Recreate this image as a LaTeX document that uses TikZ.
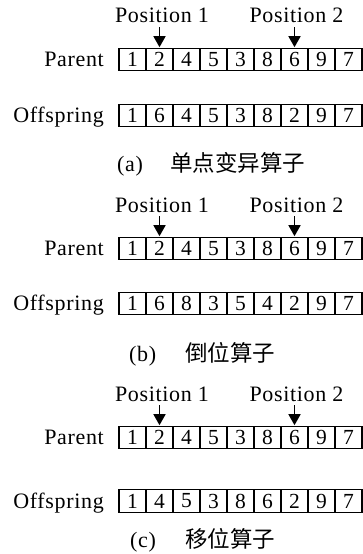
\documentclass[tikz,border=0pt]{standalone}
\usepackage{fontspec}
\setmainfont{Liberation Serif}[LetterSpace=3]
\newfontfamily\digfont{Liberation Serif}
\newfontfamily\cjk{Noto Sans CJK SC}
\usetikzlibrary{arrows.meta}
\newcommand\genrow[3]{%
  \foreach \v [count=\i] in {#3} {
    \node[cell] (#1\i) at ({105.5+27*\i},#2) {\v};
  }%
}
\begin{document}
\begin{tikzpicture}[x=1pt,y=-1pt,
  txt/.style={font=\fontsize{22}{22}\selectfont, inner sep=0pt},
  cell/.style={draw, line width=1.1pt, minimum width=27pt, minimum height=22.5pt, inner sep=0pt, font=\digfont\fontsize{21.5}{21.5}\selectfont},
  lbl/.style={txt, anchor=base east},
  postxt/.style={txt, anchor=base},
  captxt/.style={txt, anchor=base west},
  capcn/.style={anchor=base west, inner sep=0pt, font=\fontsize{22.5}{22.5}\selectfont\cjk},
  arr/.style={line width=1.5pt, -{Triangle[width=12pt,length=11pt]}, shorten >=0.5pt}]
\useasboundingbox (0,0) rectangle (363,554);
% ---------- (a)
\genrow{ap}{59.5}{1,2,4,5,3,8,6,9,7}
\genrow{ao}{115.5}{1,6,4,5,3,8,2,9,7}
\node[lbl] (ap) at (104,66.5) {Parent};
\node[lbl] (ao) at (104,122.5) {Offspring};
\node[postxt] (apos1) at (162,23) {Position 1};
\node[postxt] (apos2) at (296.5,23) {Position 2};
\draw[arr] ([yshift=-4pt]apos1.south -| ap2.north) -- (ap2.north);
\draw[arr] ([yshift=-4pt]apos2.south -| ap7.north) -- (ap7.north);
\node[captxt] (acap) at (117,171) {(a)};
\node[capcn] (acn) at (170,171) {单点变异算子};
% ---------- (b)
\genrow{bp}{248.5}{1,2,4,5,3,8,6,9,7}
\genrow{bo}{303.5}{1,6,8,3,5,4,2,9,7}
\node[lbl] (bp) at (104,255.5) {Parent};
\node[lbl] (bo) at (104,310.5) {Offspring};
\node[postxt] (bpos1) at (162,212) {Position 1};
\node[postxt] (bpos2) at (296.5,212) {Position 2};
\draw[arr] ([yshift=-4pt]bpos1.south -| bp2.north) -- (bp2.north);
\draw[arr] ([yshift=-4pt]bpos2.south -| bp7.north) -- (bp7.north);
\node[captxt] (bcap) at (129,361) {(b)};
\node[capcn] (bcn) at (185,361) {倒位算子};
% ---------- (c)
\genrow{cp}{437.5}{1,2,4,5,3,8,6,9,7}
\genrow{co}{501}{1,4,5,3,8,6,2,9,7}
\node[lbl] (cp) at (104,444.5) {Parent};
\node[lbl] (co) at (104,508) {Offspring};
\node[postxt] (cpos1) at (162,401) {Position 1};
\node[postxt] (cpos2) at (296.5,401) {Position 2};
\draw[arr] ([yshift=-4pt]cpos1.south -| cp2.north) -- (cp2.north);
\draw[arr] ([yshift=-4pt]cpos2.south -| cp7.north) -- (cp7.north);
\node[captxt] (ccap) at (130,547) {(c)};
\node[capcn] (ccn) at (185,547) {移位算子};
\end{tikzpicture}
\end{document}
